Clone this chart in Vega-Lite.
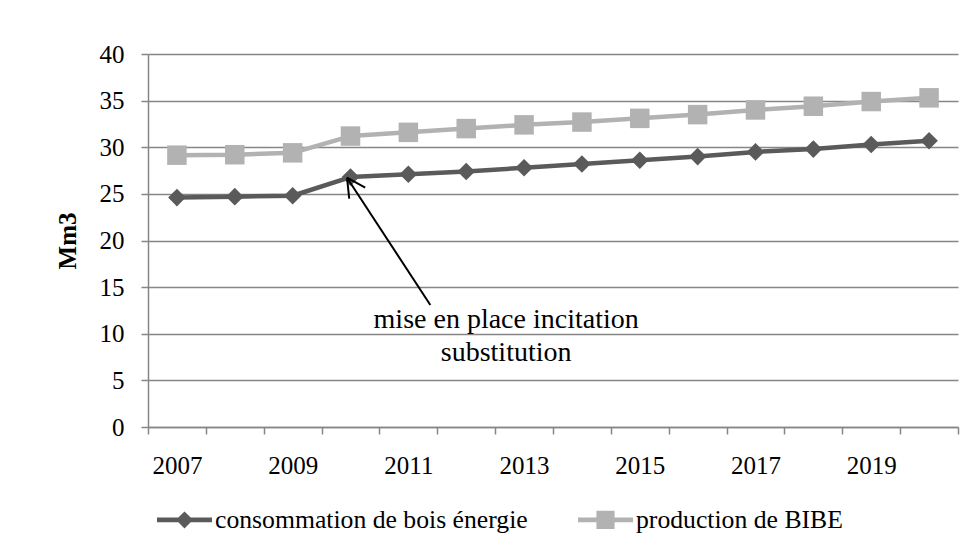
{
  "$schema": "https://vega.github.io/schema/vega-lite/v6.json",
  "width": 810,
  "height": 373,
  "autosize": {"type": "none"},
  "padding": {"left": 148, "top": 54, "right": 18, "bottom": 123},
  "background": "white",
  "config": {
    "view": {"stroke": null},
    "font": "Liberation Serif",
    "axis": {
      "labelFont": "Liberation Serif",
      "labelFontSize": 25,
      "labelColor": "black",
      "domainColor": "#868686",
      "domainWidth": 1.5,
      "tickColor": "#868686",
      "tickWidth": 1.5,
      "tickSize": 7,
      "gridColor": "#868686",
      "gridWidth": 1.4,
      "labelOverlap": false,
      "labelFlush": false
    }
  },
  "datasets": {
    "series": [
      {"annee": 2007, "serie": "consommation de bois énergie", "valeur": 24.6},
      {"annee": 2008, "serie": "consommation de bois énergie", "valeur": 24.7},
      {"annee": 2009, "serie": "consommation de bois énergie", "valeur": 24.8},
      {"annee": 2010, "serie": "consommation de bois énergie", "valeur": 26.8},
      {"annee": 2011, "serie": "consommation de bois énergie", "valeur": 27.1},
      {"annee": 2012, "serie": "consommation de bois énergie", "valeur": 27.4},
      {"annee": 2013, "serie": "consommation de bois énergie", "valeur": 27.8},
      {"annee": 2014, "serie": "consommation de bois énergie", "valeur": 28.2},
      {"annee": 2015, "serie": "consommation de bois énergie", "valeur": 28.6},
      {"annee": 2016, "serie": "consommation de bois énergie", "valeur": 29.0},
      {"annee": 2017, "serie": "consommation de bois énergie", "valeur": 29.5},
      {"annee": 2018, "serie": "consommation de bois énergie", "valeur": 29.8},
      {"annee": 2019, "serie": "consommation de bois énergie", "valeur": 30.3},
      {"annee": 2020, "serie": "consommation de bois énergie", "valeur": 30.7},
      {"annee": 2007, "serie": "production de BIBE", "valeur": 29.15},
      {"annee": 2008, "serie": "production de BIBE", "valeur": 29.2},
      {"annee": 2009, "serie": "production de BIBE", "valeur": 29.4},
      {"annee": 2010, "serie": "production de BIBE", "valeur": 31.2},
      {"annee": 2011, "serie": "production de BIBE", "valeur": 31.6},
      {"annee": 2012, "serie": "production de BIBE", "valeur": 32.0},
      {"annee": 2013, "serie": "production de BIBE", "valeur": 32.4},
      {"annee": 2014, "serie": "production de BIBE", "valeur": 32.7},
      {"annee": 2015, "serie": "production de BIBE", "valeur": 33.1},
      {"annee": 2016, "serie": "production de BIBE", "valeur": 33.5},
      {"annee": 2017, "serie": "production de BIBE", "valeur": 34.0},
      {"annee": 2018, "serie": "production de BIBE", "valeur": 34.4},
      {"annee": 2019, "serie": "production de BIBE", "valeur": 34.9},
      {"annee": 2020, "serie": "production de BIBE", "valeur": 35.3}
    ],
    "notes": [
      {"annee": 2012.69, "valeur": 10.65, "texte": "mise en place incitation"},
      {"annee": 2012.69, "valeur": 7.07, "texte": "substitution"}
    ],
    "fleche": [
      {"annee": 2011.38, "valeur": 13.08, "annee2": 2009.94, "valeur2": 26.73},
      {"annee": 2010.254, "valeur": 25.66, "annee2": 2009.94, "valeur2": 26.73},
      {"annee": 2009.978, "valeur": 24.48, "annee2": 2009.94, "valeur2": 26.73}
    ]
  },
  "layer": [
    {
      "data": {"name": "series"},
      "transform": [{"filter": "datum.serie === 'consommation de bois énergie'"}],
      "mark": {"type": "line", "strokeWidth": 4.5, "strokeJoin": "round", "color": "#5a5a5a"},
      "encoding": {
        "x": {
          "field": "annee",
          "type": "quantitative",
          "scale": {"domain": [2006.5, 2020.5], "nice": false, "zero": false},
          "axis": {
            "orient": "bottom",
            "title": null,
            "grid": false,
            "labels": false,
            "ticks": true,
            "domain": true,
            "values": [2006.5, 2007.5, 2008.5, 2009.5, 2010.5, 2011.5, 2012.5, 2013.5, 2014.5, 2015.5, 2016.5, 2017.5, 2018.5, 2019.5, 2020.5]
          }
        },
        "y": {
          "field": "valeur",
          "type": "quantitative",
          "scale": {"domain": [0, 40], "nice": false},
          "axis": {
            "title": "Mm3",
            "titleFont": "Liberation Serif",
            "titleFontSize": 25,
            "titleFontWeight": "bold",
            "titleColor": "black",
            "titleX": -81,
            "titleY": 186.5,
            "titleAngle": -90,
            "titleAlign": "center",
            "titleBaseline": "middle",
            "values": [0, 5, 10, 15, 20, 25, 30, 35, 40],
            "grid": true,
            "labelPadding": 17
          }
        }
      }
    },
    {
      "data": {"name": "series"},
      "transform": [{"filter": "datum.serie === 'production de BIBE'"}],
      "mark": {"type": "line", "strokeWidth": 4.5, "strokeJoin": "round", "color": "#b2b2b2"},
      "encoding": {
        "x": {
          "field": "annee",
          "type": "quantitative",
          "axis": {
            "orient": "bottom",
            "title": null,
            "grid": false,
            "labels": true,
            "ticks": false,
            "domain": false,
            "format": "d",
            "labelPadding": 26,
            "values": [2007, 2009, 2011, 2013, 2015, 2017, 2019]
          }
        },
        "y": {"field": "valeur", "type": "quantitative"}
      }
    },
    {
      "data": {"name": "series"},
      "transform": [{"filter": "datum.serie === 'consommation de bois énergie'"}],
      "mark": {"type": "point", "shape": "diamond", "filled": true, "opacity": 1, "size": 310, "strokeWidth": 0, "color": "#5a5a5a"},
      "encoding": {
        "x": {"field": "annee", "type": "quantitative", "axis": null},
        "y": {"field": "valeur", "type": "quantitative"}
      }
    },
    {
      "data": {"name": "series"},
      "transform": [{"filter": "datum.serie === 'production de BIBE'"}],
      "mark": {"type": "point", "shape": "square", "filled": true, "opacity": 1, "size": 380, "strokeWidth": 0, "color": "#b2b2b2"},
      "encoding": {
        "x": {"field": "annee", "type": "quantitative", "axis": null},
        "y": {"field": "valeur", "type": "quantitative"}
      }
    },
    {
      "data": {"name": "series"},
      "mark": {"type": "point", "filled": true, "opacity": 0, "size": 10, "strokeWidth": 0},
      "encoding": {
        "x": {"field": "annee", "type": "quantitative", "axis": null},
        "y": {"field": "valeur", "type": "quantitative"},
        "color": {
          "field": "serie",
          "type": "nominal",
          "scale": {"domain": ["consommation de bois énergie", "production de BIBE"], "range": ["#5a5a5a", "#b2b2b2"]},
          "legend": {
            "orient": "none",
            "legendX": 9,
            "legendY": 438,
            "direction": "horizontal",
            "title": null,
            "symbolSize": 3025,
            "symbolOpacity": 1,
            "symbolStrokeWidth": 0,
            "labelFont": "Liberation Serif",
            "labelFontSize": 25.7,
            "labelColor": "black",
            "labelOffset": 3,
            "labelLimit": 600,
            "columnPadding": 50
          }
        },
        "shape": {
          "field": "serie",
          "type": "nominal",
          "scale": {
            "domain": ["consommation de bois énergie", "production de BIBE"],
            "range": [
              "M-1,-0.085 L-0.225,-0.085 L0,-0.31 L0.225,-0.085 L1,-0.085 L1,0.085 L0.225,0.085 L0,0.31 L-0.225,0.085 L-1,0.085 Z",
              "M-1,-0.085 L-0.33,-0.085 L-0.33,-0.33 L0.33,-0.33 L0.33,-0.085 L1,-0.085 L1,0.085 L0.33,0.085 L0.33,0.33 L-0.33,0.33 L-0.33,0.085 L-1,0.085 Z"
            ]
          },
          "legend": {
            "orient": "none",
            "legendX": 9,
            "legendY": 438,
            "direction": "horizontal",
            "title": null,
            "symbolSize": 3025,
            "symbolOpacity": 1,
            "symbolStrokeWidth": 0,
            "labelFont": "Liberation Serif",
            "labelFontSize": 25.7,
            "labelColor": "black",
            "labelOffset": 3,
            "labelLimit": 600,
            "columnPadding": 50
          }
        }
      }
    },
    {
      "data": {"name": "fleche"},
      "mark": {"type": "rule", "color": "black", "strokeWidth": 2},
      "encoding": {
        "x": {"field": "annee", "type": "quantitative", "axis": null},
        "y": {"field": "valeur", "type": "quantitative"},
        "x2": {"field": "annee2"},
        "y2": {"field": "valeur2"}
      }
    },
    {
      "data": {"name": "notes"},
      "mark": {"type": "text", "font": "Liberation Serif", "fontSize": 28, "color": "black", "align": "center", "baseline": "alphabetic"},
      "encoding": {
        "x": {"field": "annee", "type": "quantitative", "axis": null},
        "y": {"field": "valeur", "type": "quantitative"},
        "text": {"field": "texte"}
      }
    }
  ],
  "resolve": {"axis": {"x": "independent"}}
}
